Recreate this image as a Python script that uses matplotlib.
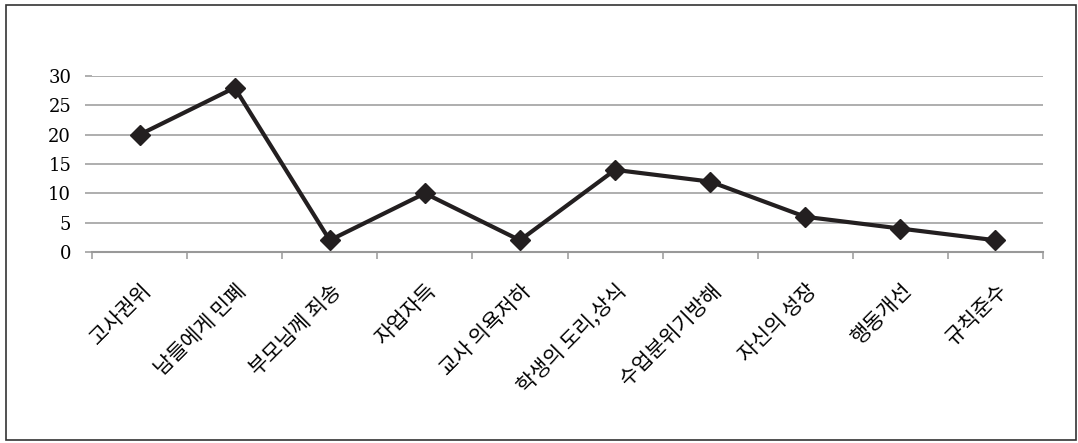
import numpy as np
import matplotlib
matplotlib.use('Agg')
import matplotlib.pyplot as plt
from matplotlib.patches import Rectangle

categories = ['고사권위', '남들에게 민폐', '부모님께 죄송', '자업자득', '교사 의욕저하',
              '학생의 도리,상식', '수업분위기방해', '자신의 성장', '행동개선', '규칙준수']
values = [20, 28, 2, 10, 2, 14, 12, 6, 4, 2]
yticks = [0, 5, 10, 15, 20, 25, 30]

grey = '#999999'

fig = plt.figure(figsize=(10.78, 4.43), dpi=100)
ax = fig.add_axes([92 / 1078, 1 - 252 / 443, (1043 - 92) / 1078, (252 - 76) / 443])

x = np.arange(len(categories))
ax.plot(x, values, color='#231f20', lw=3.0, marker='D', ms=10, zorder=3)

ax.set_xlim(-0.5, len(categories) - 0.5)
ax.set_ylim(0, 30)

ax.set_yticks(yticks)
ax.set_yticklabels([str(v) for v in yticks], fontfamily='DejaVu Serif', fontsize=13)
ax.yaxis.grid(True, color=grey, lw=1.1)
ax.set_axisbelow(True)

# category labels at centres, tick marks at the boundaries
ax.set_xticks(x)
ax.set_xticklabels(categories, rotation=45, ha='right', rotation_mode='anchor',
                   fontfamily=['Noto Sans CJK KR', 'DejaVu Sans'], fontsize=15)
ax.set_xticks(np.arange(len(categories) + 1) - 0.5, minor=True)
ax.tick_params(axis='x', which='major', length=0, pad=20)
ax.tick_params(axis='x', which='minor', length=5, color=grey, width=1.1)
ax.tick_params(axis='y', length=5, color=grey, width=1.1, pad=10)

for s in ['top', 'right', 'left']:
    ax.spines[s].set_visible(False)
ax.spines['bottom'].set_color(grey)
ax.spines['bottom'].set_linewidth(1.5)

fig.patches.append(Rectangle((6 / 1078, 3 / 443), 1070 / 1078, 435 / 443,
                             transform=fig.transFigure, fill=False,
                             edgecolor='#333333', lw=1.2))

fig.savefig('out.png', dpi=100)
